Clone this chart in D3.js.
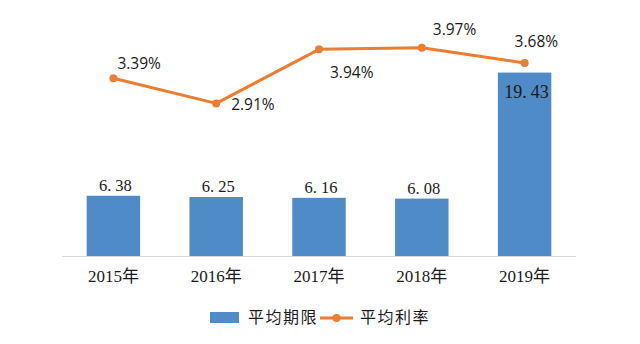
<!DOCTYPE html>
<html>
<head>
<meta charset="utf-8">
<script src="https://cdn.jsdelivr.net/npm/d3@7"></script>
<style>
  html, body { margin: 0; padding: 0; background: #fff; }
  svg { display: block; }
</style>
</head>
<body>
<svg id="chart" width="640" height="344"></svg>
<script>
// Data
const years = ["2015年", "2016年", "2017年", "2018年", "2019年"];
const avgTerm = [6.38, 6.25, 6.16, 6.08, 19.43];     // 平均期限
const avgRate = [3.39, 2.91, 3.94, 3.97, 3.68];      // 平均利率 (%)
const seriesNames = ["平均期限", "平均利率"];

const W = 640, H = 344;
const plot = { left: 62, right: 576, top: 20, bottom: 256 };

const svg = d3.select("#chart");

const x = d3.scaleBand()
  .domain(years)
  .range([plot.left, plot.right])
  .paddingInner(0.48)
  .paddingOuter(0.24);

const yBar = d3.scaleLinear().domain([0, 25]).range([plot.bottom, plot.top]);
const yRate = d3.scaleLinear().domain([0, 4.5]).range([plot.bottom, plot.top]);

const barColor = "#4f8bc6";
const lineColor = "#ed7d31";
const serif = "'Liberation Serif', 'DejaVu Serif', 'Noto Sans CJK SC', serif";
const sans = "'Open Sans', 'Noto Sans', sans-serif";
const cjk = "'Noto Sans CJK SC', sans-serif";

// Bars
svg.append("g").selectAll("rect")
  .data(avgTerm)
  .join("rect")
  .attr("x", (d, i) => x(years[i]))
  .attr("y", d => yBar(d))
  .attr("width", x.bandwidth())
  .attr("height", d => yBar(0) - yBar(d))
  .attr("fill", barColor);

// Category axis
const xAxis = svg.append("g")
  .attr("transform", `translate(0,${plot.bottom})`)
  .call(d3.axisBottom(x).tickSize(0).tickPadding(14));
xAxis.select(".domain").attr("stroke", "#d9d9d9").attr("stroke-width", 1)
  .attr("d", `M${plot.left},0.5H${plot.right}`);
xAxis.selectAll("text")
  .attr("font-family", serif)
  .attr("font-size", 17)
  .attr("fill", "#1a1a1a");

// Bar value labels (wide gap after the decimal point, as in the Song-style face)
function valueLabel(sel, v) {
  const parts = v.toFixed(2).split(".");
  sel.text(null);
  sel.append("tspan").text(parts[0] + ".");
  sel.append("tspan").attr("dx", 4).text(parts[1]);
}
svg.append("g").selectAll("text")
  .data(avgTerm)
  .join("text")
  .attr("x", (d, i) => x(years[i]) + x.bandwidth() / 2 + 2)
  .attr("y", d => d > 10 ? yBar(d) + 25 : yBar(d) - 5)
  .attr("text-anchor", "middle")
  .attr("font-family", serif)
  .attr("font-size", d => d > 10 ? 18 : 16.5)
  .attr("fill", "#1a1a1a")
  .each(function (d) { valueLabel(d3.select(this), d); });

// Rate line
const cx = i => x(years[i]) + x.bandwidth() / 2;
const line = d3.line()
  .x((d, i) => cx(i))
  .y(d => yRate(d));
svg.append("path")
  .datum(avgRate)
  .attr("d", line)
  .attr("fill", "none")
  .attr("stroke", lineColor)
  .attr("stroke-width", 3)
  .attr("stroke-linejoin", "round");
svg.append("g").selectAll("circle")
  .data(avgRate)
  .join("circle")
  .attr("cx", (d, i) => cx(i))
  .attr("cy", d => yRate(d))
  .attr("r", 4)
  .attr("fill", lineColor);

// Rate labels: offsets from each point
const rateOffsets = [[4, -9], [15, 7], [11, 29], [11, -13], [-10, -16]];
svg.append("g").selectAll("text")
  .data(avgRate)
  .join("text")
  .attr("x", (d, i) => cx(i) + rateOffsets[i][0])
  .attr("y", (d, i) => yRate(d) + rateOffsets[i][1])
  .attr("font-family", sans)
  .attr("font-size", 15.5)
  .attr("fill", "#1a1a1a")
  .text(d => d.toFixed(2) + "%");

// Legend
const lg = svg.append("g");
lg.append("rect")
  .attr("x", 210).attr("y", 312).attr("width", 29).attr("height", 11)
  .attr("fill", barColor);
lg.append("text")
  .attr("x", 248).attr("y", 323)
  .attr("font-family", cjk).attr("font-size", 16).attr("fill", "#1a1a1a")
  .attr("letter-spacing", 1.5)
  .text(seriesNames[0]);
lg.append("line")
  .attr("x1", 320).attr("x2", 353).attr("y1", 318).attr("y2", 318)
  .attr("stroke", lineColor).attr("stroke-width", 3);
lg.append("circle")
  .attr("cx", 336.5).attr("cy", 318).attr("r", 4).attr("fill", lineColor);
lg.append("text")
  .attr("x", 360).attr("y", 323)
  .attr("font-family", cjk).attr("font-size", 16).attr("fill", "#1a1a1a")
  .attr("letter-spacing", 1.5)
  .text(seriesNames[1]);
</script>
</body>
</html>
